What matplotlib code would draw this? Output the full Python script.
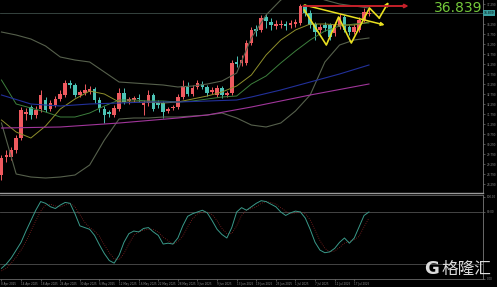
import matplotlib
matplotlib.use("Agg")
import matplotlib.pyplot as plt
import matplotlib.transforms as mtransforms
import numpy as np

plt.rcParams['font.family'] = ['DejaVu Sans', 'Noto Sans CJK SC']

# ── daily candles (bar index 0..75) ─────────────────────────────────────────
OPEN = [28.74, 29.64, 29.64, 29.99, 30.59, 31.79, 32.14, 31.74, 32.04, 32.49,
        32.04, 32.24, 32.54, 32.74, 33.34, 33.24, 32.74, 32.84, 32.89, 33.04,
        32.49, 32.04, 31.89, 31.74, 32.04, 32.84, 32.44, 32.49, 32.59, 32.24,
        32.34, 32.74, 32.34, 32.34, 31.94, 32.09, 32.14, 32.64, 33.19, 32.79,
        33.14, 33.29, 33.14, 32.89, 32.74, 33.09, 32.74, 32.84, 34.39, 34.34,
        34.34, 35.34, 36.04, 35.99, 36.64, 36.39, 36.19, 36.24, 36.29, 36.24,
        36.29, 36.34, 37.19, 36.84, 36.29, 35.99, 36.24, 36.24, 35.84, 36.14,
        36.64, 36.14, 35.89, 35.99, 36.49, 36.79]
HIGH = [29.74, 29.99, 30.14, 30.74, 32.14, 32.09, 32.24, 32.19, 32.99, 32.64,
        32.49, 32.69, 32.99, 33.49, 33.49, 33.34, 32.99, 33.29, 33.19, 33.14,
        32.64, 32.19, 31.99, 32.24, 33.09, 33.09, 32.64, 32.69, 32.79, 32.49,
        32.99, 32.84, 32.49, 32.44, 32.14, 32.24, 32.79, 33.49, 33.39, 33.24,
        33.49, 33.44, 33.24, 33.14, 33.24, 33.19, 32.94, 34.49, 34.69, 34.74,
        35.49, 36.14, 36.24, 36.74, 36.79, 36.59, 36.49, 36.49, 36.44, 36.49,
        36.54, 37.29, 37.29, 36.99, 36.39, 36.29, 36.39, 36.34, 36.39, 36.79,
        36.74, 36.24, 36.29, 36.64, 37.09, 37.09]
LOW = [28.49, 29.39, 29.49, 29.84, 30.49, 31.49, 31.54, 31.59, 31.89, 31.89,
       31.94, 32.14, 32.44, 32.64, 33.09, 32.64, 32.64, 32.74, 32.79, 32.34,
       31.89, 31.34, 31.64, 31.64, 31.94, 32.29, 32.29, 32.39, 32.39, 31.74,
       32.19, 31.94, 32.09, 31.59, 31.84, 31.99, 32.04, 32.54, 32.69, 32.69,
       33.04, 33.04, 32.69, 32.79, 32.64, 32.59, 32.64, 32.74, 34.14, 34.19,
       34.24, 35.24, 35.69, 35.89, 36.09, 35.99, 36.04, 36.09, 35.99, 36.09,
       36.14, 36.24, 36.69, 36.09, 35.49, 35.84, 35.94, 35.49, 35.69, 36.04,
       35.89, 35.74, 35.79, 35.89, 36.39, 36.69]
CLOSE = [29.59, 29.74, 29.99, 30.59, 31.99, 31.89, 31.74, 31.99, 32.74, 31.99,
         32.34, 32.54, 32.79, 33.34, 33.24, 32.74, 32.89, 32.99, 33.04, 32.49,
         32.09, 31.74, 31.79, 32.09, 32.84, 32.39, 32.54, 32.59, 32.54, 32.34,
         32.74, 32.04, 32.24, 31.89, 32.04, 32.14, 32.64, 33.19, 32.79, 33.09,
         33.34, 33.14, 32.84, 32.99, 33.09, 32.74, 32.84, 34.34, 34.29, 34.49,
         35.34, 35.99, 35.94, 36.59, 36.44, 36.24, 36.29, 36.29, 36.19, 36.34,
         36.39, 37.19, 36.84, 36.24, 35.89, 36.14, 36.09, 35.64, 36.24, 36.64,
         35.99, 35.89, 36.14, 36.49, 36.89, 36.839]

# ── indicator lines (every 3 bars) ─────────────────────────────────────────
BB_X = [0, 3, 6, 9, 12, 15, 18, 21, 24, 27, 30, 33, 36, 39, 42, 45, 48, 51,
        54, 57, 60, 63, 66, 69, 72, 75]
BB_UPPER = [35.89, 35.74, 35.54, 35.19, 34.64, 34.49, 34.39, 33.89, 33.39,
            33.34, 33.29, 33.24, 33.14, 33.19, 33.29, 33.44, 33.84, 35.59,
            36.74, 37.49, 37.84, 37.74, 37.49, 37.29, 37.19, 37.09]
BB_MID = [33.49, 32.29, 32.09, 31.89, 31.64, 31.64, 31.84, 32.19, 32.49, 32.49,
          32.44, 32.44, 32.39, 32.44, 32.54, 32.64, 32.69, 33.29, 33.69, 34.34,
          34.94, 35.49, 35.94, 36.19, 36.29, 36.34]
BB_LOWER = [31.34, 28.79, 28.64, 28.59, 28.64, 28.74, 29.24, 30.49, 31.54,
            31.59, 31.59, 31.64, 31.64, 31.69, 31.74, 31.84, 31.59, 31.24,
            31.14, 31.34, 31.94, 32.74, 34.39, 35.24, 35.49, 35.59]
MA_FAST = [31.49, 30.89, 30.59, 31.19, 32.04, 32.54, 32.94, 32.79, 32.39,
           32.39, 32.39, 32.34, 32.39, 32.54, 32.69, 32.89, 33.19, 33.74,
           34.74, 35.49, 35.99, 36.29, 36.29, 36.24, 36.24, 36.39]

MA_BLUE_X = [0, 6, 12, 18, 24, 30, 36, 42, 48, 51, 57, 63, 69, 75]
MA_BLUE = [32.74, 32.29, 32.19, 32.29, 32.34, 32.39, 32.39, 32.44, 32.49,
           32.64, 32.99, 33.39, 33.79, 34.24]
MA_PINK_X = [0, 12, 24, 36, 42, 51, 63, 75]
MA_PINK = [31.09, 31.14, 31.34, 31.59, 31.74, 32.14, 32.74, 33.29]

# ── hand drawn objects ─────────────────────────────────────────────────────
ZZ_X = [61.8, 66.3, 68.8, 71.4, 75.1, 77.1, 79.0]
ZZ_Y = [36.99, 35.24, 36.64, 35.34, 37.09, 36.59, 37.39]
TREND_X = [61.8, 78.2]
TREND_Y = [37.24, 36.24]
RES_X = [61.6, 83.1]
RES_Y = [37.19, 37.19]
LAST_PRICE = 36.839

# ── stochastic ─────────────────────────────────────────────────────────────
STOCH_MAIN = [15, 20, 27, 36, 45, 58, 70, 82, 92, 90, 86, 84, 88, 91, 90, 78,
              64, 62, 60, 53, 42, 32, 24, 21, 30, 45, 55, 58, 57, 61, 62, 57,
              53, 43, 44, 43, 50, 64, 75, 78, 80, 82, 79, 70, 60, 54, 50, 62,
              80, 85, 82, 86, 90, 93, 92, 89, 86, 80, 76, 79, 81, 80, 73, 60,
              45, 36, 33, 34, 38, 45, 50, 44, 50, 63, 76, 80]
STOCH_SIG = [12, 15, 21, 28, 36, 46, 58, 70, 81, 88, 89, 87, 86, 88, 90, 86,
             77, 68, 62, 58, 52, 42, 33, 26, 25, 32, 43, 53, 57, 59, 60, 60,
             57, 51, 47, 43, 46, 52, 63, 72, 78, 80, 80, 77, 70, 61, 55, 55,
             64, 76, 82, 84, 86, 90, 92, 91, 89, 85, 81, 78, 79, 80, 78, 71,
             59, 47, 38, 34, 35, 39, 44, 46, 48, 52, 63, 73]

PRICE_TICKS = [37.29, 36.29, 35.79, 35.29, 34.79, 34.29, 33.79, 33.29, 32.79,
               32.29, 31.79, 31.29, 30.79, 30.29, 29.79, 29.29, 28.79, 28.29]
DATE_TICKS = [0, 4, 8, 12, 16, 20, 24, 28, 32, 36, 40, 44, 48, 52, 56, 60,
              64, 68, 72]
DATE_LABELS = ["8 Apr 2025", "14 Apr 2025", "18 Apr 2025", "24 Apr 2025",
               "30 Apr 2025", "6 May 2025", "12 May 2025", "16 May 2025",
               "22 May 2025", "28 May 2025", "3 Jun 2025", "9 Jun 2025",
               "13 Jun 2025", "19 Jun 2025", "25 Jun 2025", "1 Jul 2025",
               "7 Jul 2025", "11 Jul 2025", "17 Jul 2025"]

UP = "#ef5a5f"
DOWN = "#4cc3b5"
GRID_TXT = "#8a8a8a"

fig = plt.figure(figsize=(4.97, 2.87), dpi=100, facecolor="black")
ax = fig.add_axes([0, 0.3275, 0.9718, 0.6725], facecolor="black")
ax2 = fig.add_axes([0, 0.0279, 0.9718, 0.2927], facecolor="black", sharex=ax)

# candles
o = np.array(OPEN)
c = np.array(CLOSE)
x = np.arange(len(o))
cols = [UP if cc >= oo else DOWN for oo, cc in zip(o, c)]
ax.vlines(x, LOW, HIGH, colors=cols, lw=0.7, zorder=2)
ax.bar(x, np.maximum(np.abs(c - o), 0.05), bottom=np.minimum(o, c),
       width=0.74, color=cols, lw=0, zorder=2)

# indicators
ax.plot(BB_X, BB_UPPER, color="#56604c", lw=0.8, zorder=3)
ax.plot(BB_X, BB_LOWER, color="#56604c", lw=0.8, zorder=3)
ax.plot(BB_X, BB_MID, color="#3d7f3d", lw=0.7, zorder=3)
ax.plot(BB_X, MA_FAST, color="#8f8f2c", lw=0.7, zorder=3)
ax.plot(MA_BLUE_X, MA_BLUE, color="#22309a", lw=0.8, zorder=3)
ax.plot(MA_PINK_X, MA_PINK, color="#a0359a", lw=0.8, zorder=3)

# bid line
ax.axhline(LAST_PRICE, color="#3d4d48", lw=0.6, zorder=1)

# drawn objects
YEL = "#e8e020"
ax.plot(ZZ_X[:-1], ZZ_Y[:-1], color=YEL, lw=1.2, zorder=4)
ax.annotate("", xy=(ZZ_X[-1], ZZ_Y[-1]), xytext=(ZZ_X[-2], ZZ_Y[-2]),
            arrowprops=dict(arrowstyle="-|>", color=YEL, lw=1.2,
                            mutation_scale=5, shrinkA=0, shrinkB=0), zorder=4)
ax.annotate("", xy=(TREND_X[1], TREND_Y[1]), xytext=(TREND_X[0], TREND_Y[0]),
            arrowprops=dict(arrowstyle="-|>", color=YEL, lw=1.1,
                            mutation_scale=5, shrinkA=0, shrinkB=0), zorder=4)
ax.annotate("", xy=(RES_X[1], RES_Y[1]), xytext=(RES_X[0], RES_Y[0]),
            arrowprops=dict(arrowstyle="-|>", color="#c4202a", lw=1.4,
                            mutation_scale=5, shrinkA=0, shrinkB=0), zorder=4)

ax.set_xlim(-0.3, 98.27)
ax.set_ylim(27.84, 37.49)

# price scale on the right
ax.yaxis.tick_right()
ax.set_yticks(PRICE_TICKS)
ax.set_yticklabels([f"{v:.3f}" for v in PRICE_TICKS])
ax.tick_params(axis="y", colors=GRID_TXT, labelsize=2, length=1.5, width=0.4, pad=1)
ax.tick_params(axis="x", bottom=False, labelbottom=False)
for side in ("left", "top"):
    ax.spines[side].set_visible(False)
ax.spines["right"].set_color("#7a7a7a")
ax.spines["right"].set_linewidth(0.6)
ax.spines["bottom"].set_color("#9a9a9a")
ax.spines["bottom"].set_linewidth(1.0)

blend = mtransforms.blended_transform_factory(ax.transAxes, ax.transData)
ax.text(1.002, LAST_PRICE, f"{LAST_PRICE:.3f}", transform=blend, fontsize=2.2,
        color="black", va="center", ha="left",
        bbox=dict(boxstyle="square,pad=0.3", fc="#3aa0a0", ec="none"))
fig.text(482 / 497, 1 - 8 / 287, f"{LAST_PRICE:.3f}", color="#74c93a",
         fontsize=10, ha="right", va="center")

# stochastic window
ax2.plot(x, STOCH_SIG, color="#8a2424", lw=0.6, ls=":", zorder=2)
ax2.plot(x, STOCH_MAIN, color="#3a9a8a", lw=0.7, zorder=3)
for lvl in (80, 20):
    ax2.axhline(lvl, color="#505050", lw=0.6, zorder=1)
ax2.set_ylim(2.7, 99.6)
ax2.yaxis.tick_right()
ax2.set_yticks([97.3, 80, 3])
ax2.set_yticklabels(["100.00", "80.00", "0.00"])
ax2.tick_params(axis="y", colors=GRID_TXT, labelsize=2, length=1.5, width=0.4, pad=1)
ax2.set_xticks(DATE_TICKS)
ax2.set_xticklabels(DATE_LABELS, ha="left")
ax2.tick_params(axis="x", colors=GRID_TXT, labelsize=2, length=1.5, width=0.4, pad=1)
ax2.spines["left"].set_visible(False)
for side in ("top", "bottom"):
    ax2.spines[side].set_color("#6a6a6a")
    ax2.spines[side].set_linewidth(0.6)
ax2.spines["right"].set_color("#7a7a7a")
ax2.spines["right"].set_linewidth(0.6)

# watermark
fig.text(424 / 497, 1 - 269 / 287, "G", color="#dcdcdc", fontsize=13,
         fontweight="bold", ha="left", va="center")
fig.text(442 / 497, 1 - 269 / 287, "格隆汇", color="#dcdcdc", fontsize=12,
         family=["Noto Sans CJK SC", "DejaVu Sans"], ha="left", va="center")

fig.savefig("out.png", dpi=100, facecolor="black")
